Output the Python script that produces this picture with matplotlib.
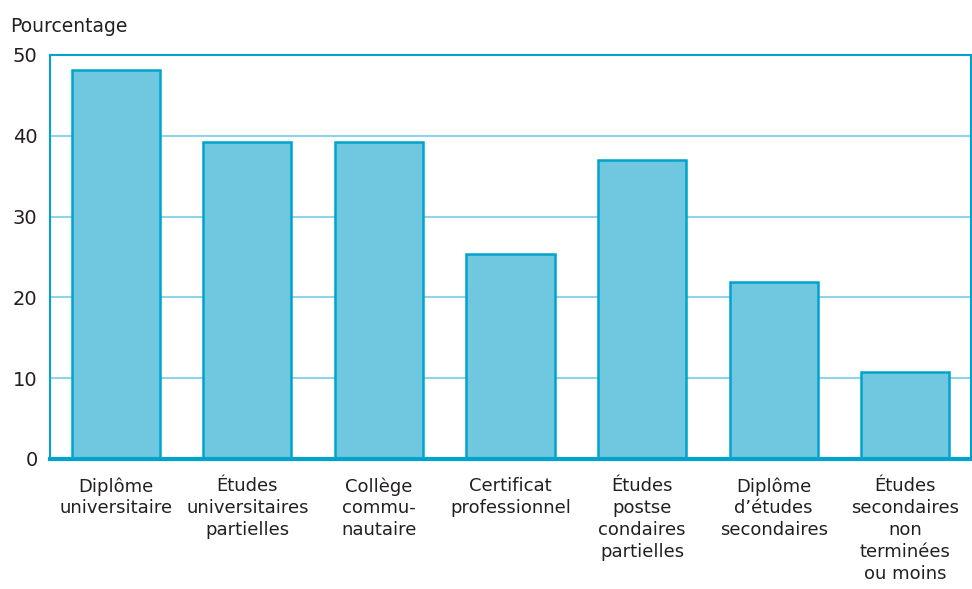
import matplotlib
matplotlib.use("Agg")
import matplotlib.pyplot as plt

# Données
categories = [
    "Diplôme\nuniversitaire",
    "Études\nuniversitaires\npartielles",
    "Collège\ncommu-\nnautaire",
    "Certificat\nprofessionnel",
    "Études\npostse\ncondaires\npartielles",
    "Diplôme\nd’études\nsecondaires",
    "Études\nsecondaires\nnon\nterminées\nou moins",
]
valeurs = [48.1, 39.2, 39.2, 25.4, 37.0, 21.9, 10.8]
yticks = [0, 10, 20, 30, 40, 50]

plt.rcParams["font.family"] = ["DejaVu Sans"]

BLEU = "#00a3cc"
REMPLI = "#6fc8e0"
GRILLE = "#8fd4ea"
TEXTE = "#231f20"

fig = plt.figure(figsize=(9.72, 5.89), dpi=100)
ax = fig.add_axes([50 / 972, 1 - 459 / 589, 921 / 972, (459 - 55) / 589])

x = list(range(len(categories)))
ax.bar(x, valeurs, width=0.67, color=REMPLI, edgecolor=BLEU, linewidth=1.8, zorder=3)

ax.set_xlim(-0.5, len(categories) - 0.5)
ax.set_ylim(0, 50)
ax.set_yticks(yticks)
ax.set_xticks(x)
ax.set_xticklabels(categories, fontsize=13, color=TEXTE, linespacing=1.28)
ax.tick_params(axis="y", labelsize=14, colors=TEXTE, length=0, pad=9)
ax.tick_params(axis="x", length=0, pad=13)

for t in yticks[1:-1]:
    ax.axhline(t, color=GRILLE, linewidth=1.5, zorder=1)

for s in ["left", "top", "right"]:
    ax.spines[s].set_color(BLEU)
    ax.spines[s].set_linewidth(1.5)
ax.spines["bottom"].set_color(BLEU)
ax.spines["bottom"].set_linewidth(3)
ax.spines["bottom"].set_zorder(4)

fig.text(10 / 972, 1 - 26 / 589, "Pourcentage", fontsize=13.5, color=TEXTE, va="center", ha="left")

fig.savefig("out.png", dpi=100)
